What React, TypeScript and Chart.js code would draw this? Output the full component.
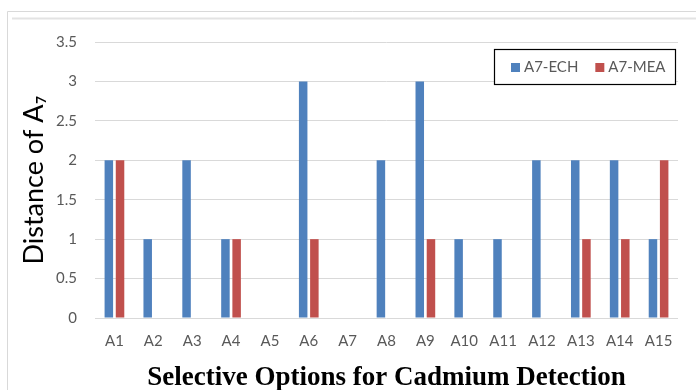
import React, { useEffect, useRef } from "react";
import { Chart, registerables } from "chart.js";

Chart.register(...registerables);

const categories = ["A1", "A2", "A3", "A4", "A5", "A6", "A7", "A8", "A9", "A10", "A11", "A12", "A13", "A14", "A15"];
const echValues = [2, 1, 2, 1, 0, 3, 0, 2, 3, 1, 1, 2, 2, 2, 1];
const meaValues = [2, 0, 0, 1, 0, 1, 0, 0, 1, 0, 0, 0, 1, 1, 2];
const seriesLabels = ["A7-ECH", "A7-MEA"];
const seriesColors = ["#4F81BD", "#C0504D"];
const yMin = 0;
const yMax = 3.5;
const yStep = 0.5;
const xTitle = "Selective Options for Cadmium Detection";
const yTitle = "Distance of A\u2087";

const framePlugin = {
  id: "frame",
  beforeDraw(chart: any) {
    const ctx = chart.ctx;
    ctx.save();
    ctx.fillStyle = "#ffffff";
    ctx.fillRect(0, 0, chart.width, chart.height);
    ctx.strokeStyle = "#D9D9D9";
    ctx.lineWidth = 1;
    ctx.beginPath();
    ctx.moveTo(7.5, chart.height + 2);
    ctx.lineTo(7.5, 11.5);
    ctx.lineTo(chart.width + 2, 11.5);
    ctx.stroke();
    ctx.strokeStyle = "#E3E3E3";
    ctx.lineWidth = 2;
    ctx.beginPath();
    ctx.moveTo(12, 18.5);
    ctx.lineTo(chart.width, 18.5);
    ctx.stroke();
    ctx.restore();
  },
};

const boxLegendPlugin = {
  id: "boxLegend",
  afterDatasetsDraw(chart: any) {
    const ctx = chart.ctx;
    ctx.save();
    const x0 = 494.5;
    const y0 = 49.5;
    const w = 181;
    const h = 35;
    ctx.fillStyle = "#ffffff";
    ctx.fillRect(x0, y0, w, h);
    ctx.strokeStyle = "#000000";
    ctx.lineWidth = 1.2;
    ctx.strokeRect(x0, y0, w, h);
    ctx.font = "15px Lato";
    ctx.textBaseline = "middle";
    ctx.textAlign = "left";
    let x = 511;
    const cy = 67.5;
    chart.data.datasets.forEach((ds: any) => {
      ctx.fillStyle = ds.backgroundColor;
      ctx.fillRect(x, cy - 4.5, 9, 9);
      x += 13;
      ctx.fillStyle = "#595959";
      ctx.fillText(ds.label, x, cy);
      x += ctx.measureText(ds.label).width + 17;
    });
    ctx.restore();
  },
};

export default function App() {
  const canvasRef = useRef<HTMLCanvasElement | null>(null);

  useEffect(() => {
    if (!canvasRef.current) return;
    const chart = new Chart(canvasRef.current, {
      type: "bar",
      data: {
        labels: categories,
        datasets: [
          {
            label: seriesLabels[0],
            data: echValues,
            backgroundColor: seriesColors[0],
            borderWidth: 0,
            categoryPercentage: 0.576,
            barPercentage: 0.76,
          },
          {
            label: seriesLabels[1],
            data: meaValues,
            backgroundColor: seriesColors[1],
            borderWidth: 0,
            categoryPercentage: 0.576,
            barPercentage: 0.76,
          },
        ],
      },
      options: {
        animation: false,
        responsive: false,
        maintainAspectRatio: false,
        layout: { padding: { left: 0, right: 18, top: 42, bottom: 0 } },
        plugins: {
          legend: { display: false },
          tooltip: { enabled: false },
        },
        scales: {
          x: {
            grid: { display: false, drawTicks: false },
            border: { display: false },
            ticks: {
              color: "#595959",
              font: { family: "Lato", size: 15 },
              padding: 14,
              maxRotation: 0,
              autoSkip: false,
            },
            title: {
              display: true,
              text: xTitle,
              color: "#000000",
              font: { family: "'Liberation Serif', 'Times New Roman', serif", size: 27, weight: "bold", lineHeight: 0.85 },
              padding: { top: 0, bottom: 0 },
            },
            afterFit(scale: any) {
              scale.height = 72;
            },
          },
          y: {
            min: yMin,
            max: yMax,
            grid: { color: "#D9D9D9", lineWidth: 1, drawTicks: false },
            border: { display: false },
            ticks: {
              stepSize: yStep,
              color: "#595959",
              font: { family: "Lato", size: 15 },
              padding: 18,
              callback: (v: any) => String(Number(v)),
            },
            title: {
              display: true,
              text: yTitle,
              color: "#000000",
              font: { family: "Lato", size: 27, lineHeight: 1 },
              padding: { top: 21, bottom: 0 },
            },
            afterFit(scale: any) {
              scale.width = 95;
            },
          },
        },
      },
      plugins: [framePlugin, boxLegendPlugin],
    });
    return () => chart.destroy();
  }, []);

  return (
    <div style={{ position: "fixed", left: 0, top: 0, width: 696, height: 390, background: "#fff" }}>
      <canvas ref={canvasRef} width={696} height={390} style={{ width: 696, height: 390, display: "block" }} />
    </div>
  );
}
